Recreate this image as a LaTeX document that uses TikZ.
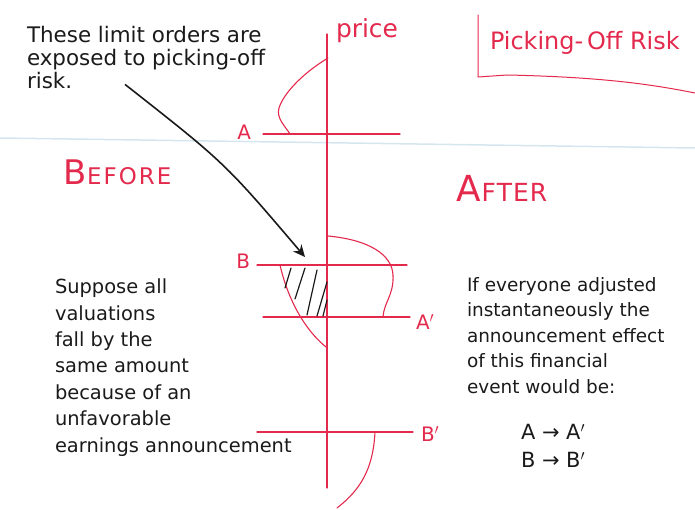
\documentclass[tikz,border=0pt]{standalone}
\usepackage{fontspec}
\setmainfont{DejaVu Sans}
\usepackage{tikz}
\usetikzlibrary{arrows.meta,calc}
\definecolor{ink}{HTML}{E3294C}
\definecolor{pen}{HTML}{1A1A1A}
\definecolor{rule}{HTML}{D5E6EF}
\newcommand\hand{\fontsize{19.5}{26.5}\selectfont}

\begin{document}
\begin{tikzpicture}[
  x=1bp, y=-1bp,
  every node/.style={inner sep=0pt, outer sep=0pt},
  note/.style ={font=\hand, color=pen, align=left, anchor=north west},
  tag/.style  ={font=\fontsize{20}{20}\selectfont, color=ink},
  redline/.style={ink, line width=1.1bp, line cap=round},
  hatch/.style={pen, line width=1.2bp, line cap=round},
  pointer/.style={-{Stealth[length=12bp, width=11bp]}, pen, line width=1.6bp},
]
\useasboundingbox (0,0) rectangle (695,510);

% ── Level y-coordinates ──
\def\xAxis{327}
\def\yA{134}
\def\yB{265}
\def\yAp{317}
\def\yBp{432}

% ── Notebook rule ──
\draw[rule, line width=1.5bp] (0,138) -- (695,148);

% ── Title with bracket ──
\node[tag, font=\fontsize{24}{24}\selectfont, anchor=west] (title) at (490,43) {Picking-\,Off Risk};
\draw[redline, line width=1bp] (478,15) -- (478,77) -- (507,75)
  .. controls (600,77) and (650,84) .. (695,93);

% ── Price axis ──
\draw[redline] (\xAxis,34) -- (\xAxis,488);
\node[tag, font=\fontsize{25}{25}\selectfont, anchor=west] (price) at (336,31) {price};

% ── Levels ──
\draw[redline] (263,\yA)  -- (400,\yA);
\draw[redline] (257,\yB)  -- (407,\yB);
\draw[redline] (263,\yAp) -- (410,\yAp);
\draw[redline] (257,\yBp) -- (413,\yBp);
\node[tag, anchor=east] (lblA)  at (251,\yA-2)  {A};
\node[tag, anchor=east] (lblB)  at (250,\yB-4)  {B};
\node[tag, anchor=west] (lblAp) at (416,\yAp+5) {A$'$};
\node[tag, anchor=west] (lblBp) at (421,\yBp+2) {B$'$};

% ── Order-book curves ──
\draw[redline] (328,58) .. controls (300,75) and (283,95) .. (279,108)
  .. controls (276,118) and (285,126) .. (290,\yA);
\draw[redline] (328,236) .. controls (370,240) and (392,255) .. (393,275)
  .. controls (394,295) and (384,302) .. (383,\yAp);
\draw[redline] (280,\yB) .. controls (288,300) and (305,330) .. (326,347);
\draw[redline] (375,\yBp) .. controls (373,470) and (360,490) .. (337,508);

% ── Hatched region (exposed limit orders) ──
\foreach \xa/\ya/\xb/\yb in {291/268/285/288, 305/268/295/299, 317/270/307/315,
                             327/282/317/316, 327/300/323/316}
  \draw[hatch] (\xa,\ya) -- (\xb,\yb);
\coordinate (hatchtop) at (305,257);

% ── Before / After ──
\node[tag, anchor=base west] (before) at (63,185)
  {{\fontsize{34}{34}\selectfont B}\kern1bp{\fontsize{23}{23}\selectfont E\kern2bp F\kern2bp O\kern2bp R\kern2bp E}};
\node[tag, anchor=base west] (after) at (456,202)
  {{\fontsize{36}{36}\selectfont A}\kern1bp{\fontsize{25}{25}\selectfont F\kern1bp T\kern1bp E\kern1bp R}};

% ── Annotations ──
\node[note, font=\fontsize{21.5}{23}\selectfont] (exposed) at (27,26)
  {These limit orders are\\exposed to picking-off\\risk.};
\draw[pointer] ($(exposed.south west)+(98,-4)$) .. controls (225,163) .. (hatchtop);

\node[note] (suppose) at (55,279)
  {Suppose all\\valuations\\fall by the\\same amount\\because of an\\unfavorable\\earnings announcement};

\node[note, font=\fontsize{18.5}{25.7}\selectfont] (ifall) at (467,277)
  {If everyone adjusted\\instantaneously the\\announcement effect\\of this financial\\event would be:};

\node[note, font=\fontsize{21}{28}\selectfont, align=center, anchor=center] (moves) at (553,446)
  {A → A$'$\\B → B$'$};

\end{tikzpicture}
\end{document}
